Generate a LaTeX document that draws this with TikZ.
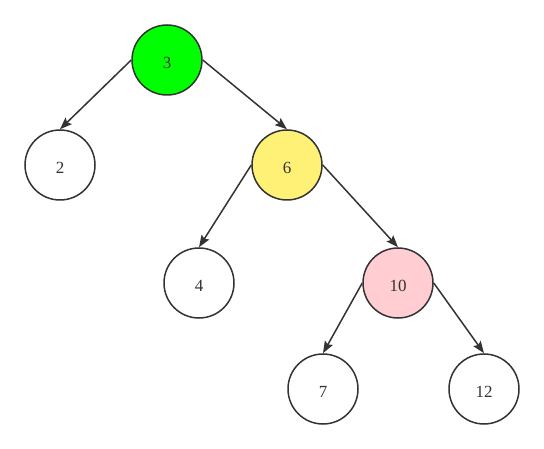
\documentclass[tikz,border=0pt]{standalone}
\usepackage{fontspec}
\setmainfont{Liberation Serif}
\usetikzlibrary{arrows.meta}
\definecolor{strokec}{HTML}{333333}
\definecolor{greenc}{HTML}{00FF00}
\definecolor{yellowc}{HTML}{FFF176}
\definecolor{pinkc}{HTML}{FFCDD2}
\newcommand{\lowtxt}[1]{\raisebox{-3pt}[\height][0pt]{#1}}
\begin{document}
\begin{tikzpicture}[x=1pt,y=-1pt,
  treenode/.style={circle,draw=strokec,line width=1.5pt,minimum size=70pt,inner sep=0pt,font=\fontsize{17}{19}\selectfont,text=strokec},
  edge/.style={draw=strokec,line width=1.5pt,-{Stealth[length=12pt,width=9pt,inset=2pt]}}]
\useasboundingbox (0,0) rectangle (544,449);
\node[treenode,fill=greenc] (n3) at (167,60) {\lowtxt{3}};
\node[treenode,fill=white] (n2) at (60,165) {\lowtxt{2}};
\node[treenode,fill=yellowc] (n6) at (287,165) {\lowtxt{6}};
\node[treenode,fill=white] (n4) at (199,283) {\lowtxt{4}};
\node[treenode,fill=pinkc] (n10) at (398,283) {\lowtxt{10}};
\node[treenode,fill=white] (n7) at (323,389) {\lowtxt{7}};
\node[treenode,fill=white] (n12) at (484,389) {\lowtxt{12}};
\draw[edge] (n3.west) -- (n2.north);
\draw[edge] (n3.east) -- (n6.north);
\draw[edge] (n6.west) -- (n4.north);
\draw[edge] (n6.east) -- (n10.north);
\draw[edge] (n10.west) -- (n7.north);
\draw[edge] (n10.east) -- (n12.north);
\end{tikzpicture}
\end{document}
